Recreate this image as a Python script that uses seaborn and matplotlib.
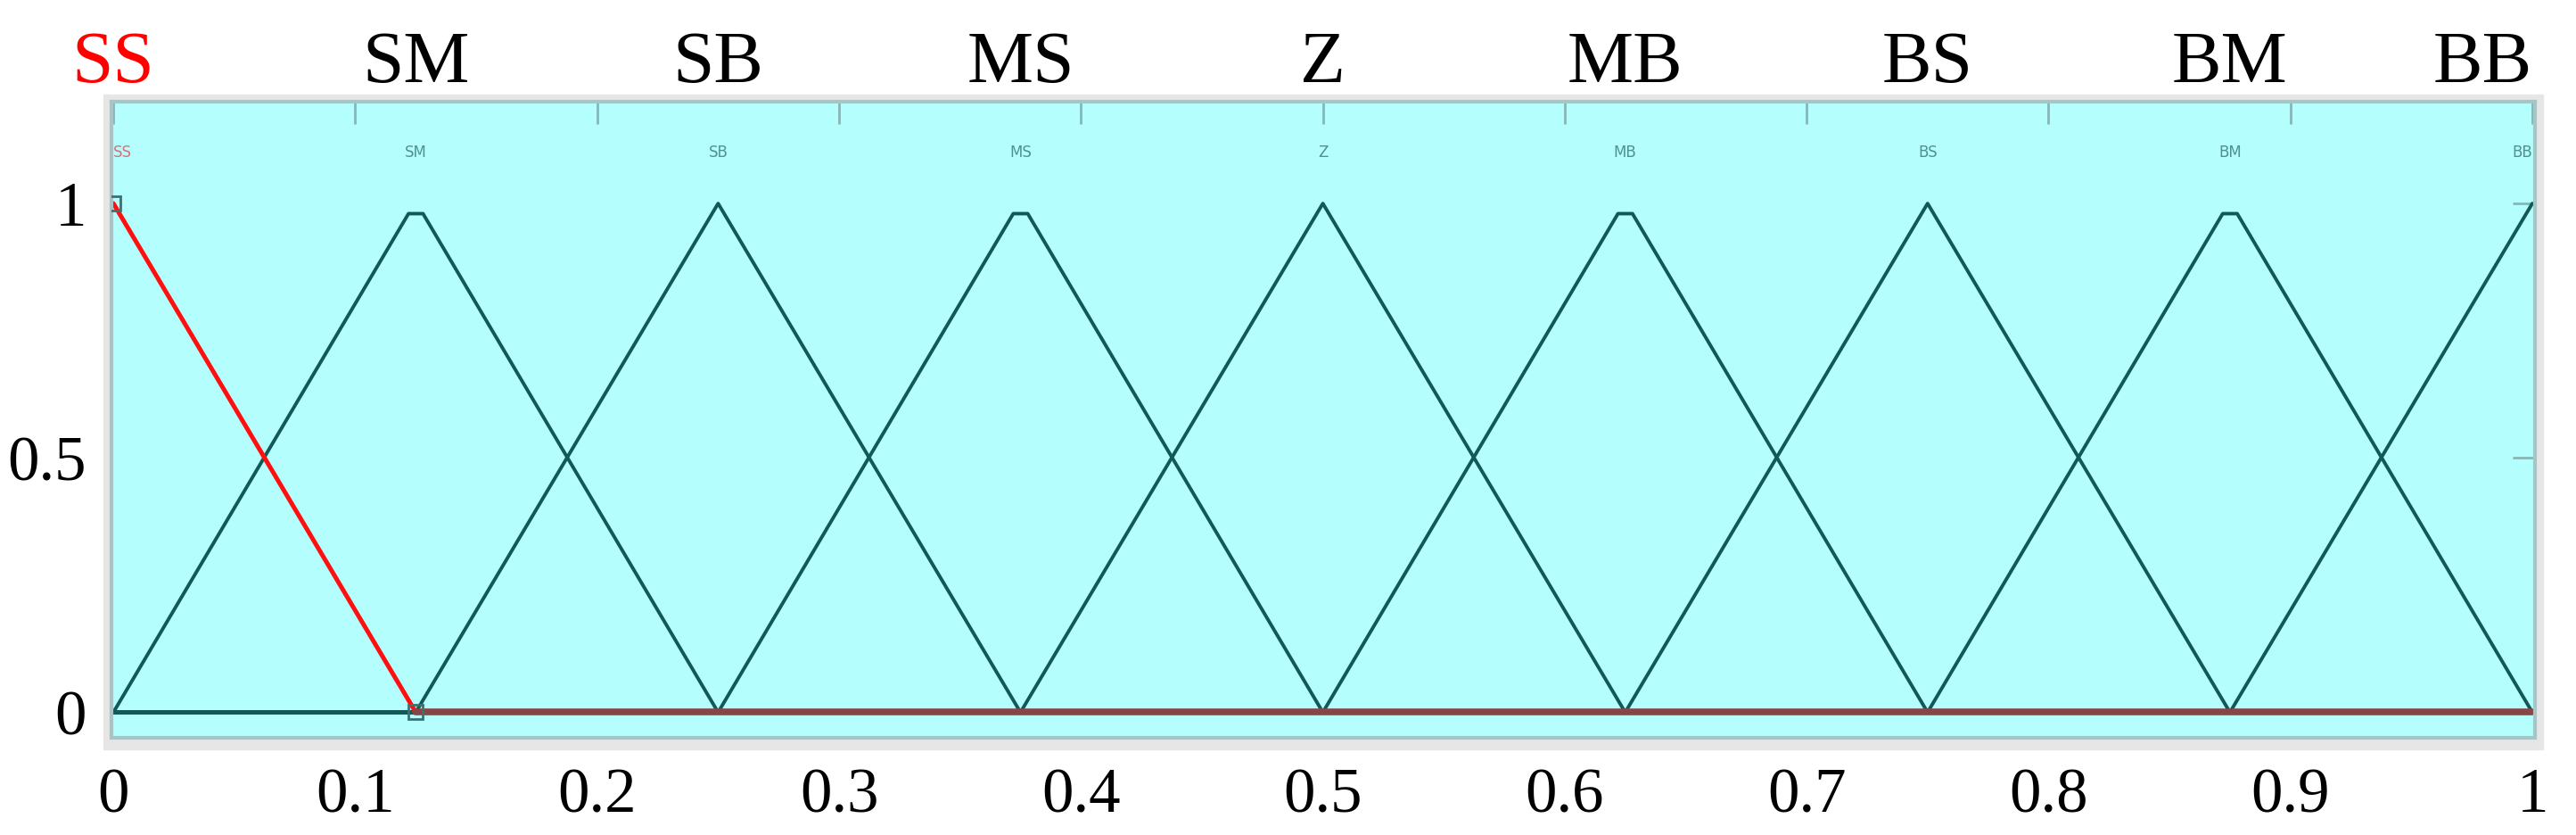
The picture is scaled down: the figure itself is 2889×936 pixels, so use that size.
import numpy as np
import pandas as pd
import matplotlib
matplotlib.use('Agg')
import matplotlib.pyplot as plt
import seaborn as sns
from matplotlib.patches import Rectangle

# membership function names and peak positions
labels = ['SS', 'SM', 'SB', 'MS', 'Z', 'MB', 'BS', 'BM', 'BB']
peaks = [0.0, 0.125, 0.25, 0.375, 0.5, 0.625, 0.75, 0.875, 1.0]

# vertices of each membership function (whole universe 0..1)
mf_x = [
    [0.0, 0.125, 1.0],
    [0.0, 0.122, 0.128, 0.25, 1.0],
    [0.0, 0.125, 0.25, 0.375, 1.0],
    [0.0, 0.25, 0.372, 0.378, 0.5, 1.0],
    [0.0, 0.375, 0.5, 0.625, 1.0],
    [0.0, 0.5, 0.622, 0.628, 0.75, 1.0],
    [0.0, 0.625, 0.75, 0.875, 1.0],
    [0.0, 0.75, 0.872, 0.878, 1.0],
    [0.0, 0.875, 1.0],
]
mf_y = [
    [1.0, 0.0, 0.0],
    [0.0, 0.98, 0.98, 0.0, 0.0],
    [0.0, 0.0, 1.0, 0.0, 0.0],
    [0.0, 0.0, 0.98, 0.98, 0.0, 0.0],
    [0.0, 0.0, 1.0, 0.0, 0.0],
    [0.0, 0.0, 0.98, 0.98, 0.0, 0.0],
    [0.0, 0.0, 1.0, 0.0, 0.0],
    [0.0, 0.0, 0.98, 0.98, 0.0],
    [0.0, 0.0, 1.0],
]

xticks = [0, 0.1, 0.2, 0.3, 0.4, 0.5, 0.6, 0.7, 0.8, 0.9, 1.0]
xtick_labels = ['0', '0.1', '0.2', '0.3', '0.4', '0.5', '0.6', '0.7', '0.8', '0.9', '1']
yticks = [0, 0.5, 1]
ytick_labels = ['0', '0.5', '1']

selected = 'SS'

teal = '#135858'
red = '#ff1010'
brown = '#874646'
cyan = '#b4fffe'
tick_col = '#86b6b6'

sns.set_style('white')
plt.rcParams['font.family'] = ['Liberation Serif', 'DejaVu Serif']
plt.rcParams['xtick.labelcolor'] = 'black'
plt.rcParams['ytick.labelcolor'] = 'black'

rows = []
for name, xs, ys in zip(labels, mf_x, mf_y):
    for x, y in zip(xs, ys):
        rows.append({'mf': name, 'x': x, 'y': y})
df = pd.DataFrame(rows)

fig = plt.figure(figsize=(28.89, 9.36), dpi=100)
frame = Rectangle((116 / 2889, 1 - 840 / 936), (2852 - 116) / 2889, (840 - 106) / 936,
                  transform=fig.transFigure, color='#e6e6e6', zorder=-5)
fig.patches.append(frame)
ax = fig.add_axes([125 / 2889, 1 - 827 / 936, (2843 - 125) / 2889, (827 - 114) / 936])
ax.set_zorder(1)
ax.set_facecolor(cyan)

# unselected membership functions
others = df[df['mf'] != selected]
sns.lineplot(data=others, x='x', y='y', units='mf', estimator=None, sort=False,
             color=teal, linewidth=2.8, ax=ax)

# selected one in red, its zero part shows brownish
sel = df[df['mf'] == selected]
sns.lineplot(x=sel['x'].values[:2], y=sel['y'].values[:2], sort=False,
             color=red, linewidth=3.6, ax=ax)
sns.lineplot(x=sel['x'].values[1:], y=sel['y'].values[1:], sort=False,
             color=brown, linewidth=5.5, ax=ax)
ax.plot(sel['x'].values[:2], sel['y'].values[:2], linestyle='none', marker='s',
        markersize=12, markerfacecolor='none', markeredgecolor='#3f6f6f',
        markeredgewidth=2, zorder=5)

ax.set_xlim(-0.0008, 1.0011)
ax.set_ylim(-0.05, 1.2)
ax.set_xticks(xticks)
ax.set_xticklabels(xtick_labels)
ax.set_yticks(yticks)
ax.set_yticklabels(ytick_labels)
ax.tick_params(axis='both', direction='in', length=18, width=2, color=tick_col,
               top=True, right=True, labelsize=51, labelcolor='black')
ax.tick_params(axis='x', pad=24)
ax.tick_params(axis='y', pad=20)
ax.set_xlabel('')
ax.set_ylabel('')
for s in ax.spines.values():
    s.set_color('#a9c4c4')
    s.set_linewidth(3)

n = len(labels)
for i, (name, p) in enumerate(zip(labels, peaks)):
    col = 'red' if name == selected else 'black'
    inner_col = '#e8404a' if name == selected else '#2f6b6b'
    ha_top = 'right' if i == n - 1 else 'center'
    ax.text(p, 1.238, name, fontsize=60, ha=ha_top, va='baseline', color=col,
            family=['Liberation Serif'], clip_on=False)
    ha_in = 'left' if i == 0 else ('right' if i == n - 1 else 'center')
    ax.text(p, 1.1, name, fontsize=12, ha=ha_in, va='center', color=inner_col,
            family=['DejaVu Sans'], alpha=0.75)

fig.savefig('out.png', dpi=100)
